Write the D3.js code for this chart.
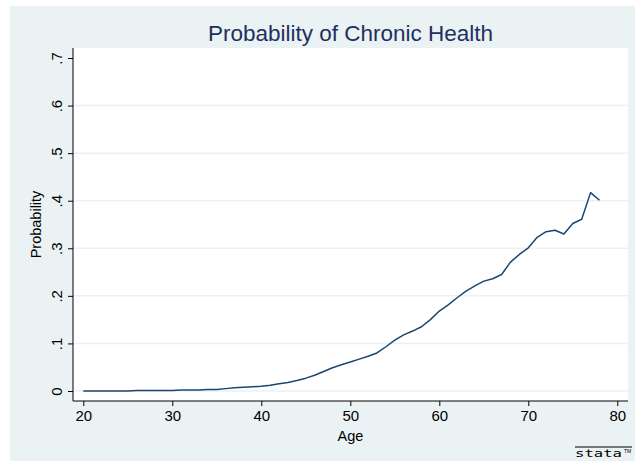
<!DOCTYPE html>
<html>
<head>
<meta charset="utf-8">
<script src="https://cdn.jsdelivr.net/npm/d3@7"></script>
<style>
  html, body { margin: 0; padding: 0; background: #ffffff; }
  svg { display: block; font-family: "Liberation Sans", Arial, Helvetica, sans-serif; }
</style>
</head>
<body>
<svg id="chart" width="635" height="461"></svg>
<script>
// Predicted probability of a chronic health condition by age
const ages = [20,21,22,23,24,25,26,27,28,29,30,31,32,33,34,35,36,37,38,39,
              40,41,42,43,44,45,46,47,48,49,50,51,52,53,54,55,56,57,58,59,
              60,61,62,63,64,65,66,67,68,69,70,71,72,73,74,75,76,77,78];
const probability = [0.000,0.000,0.000,0.000,0.000,0.000,0.001,0.001,0.001,0.001,
                     0.001,0.002,0.002,0.002,0.003,0.003,0.005,0.007,0.008,0.009,
                     0.010,0.012,0.015,0.018,0.022,0.027,0.033,0.041,0.049,0.055,
                     0.061,0.067,0.073,0.080,0.093,0.107,0.118,0.126,0.135,0.150,
                     0.168,0.181,0.196,0.210,0.221,0.231,0.236,0.245,0.271,0.287,
                     0.301,0.323,0.335,0.338,0.330,0.352,0.361,0.417,0.401];
const xTicks = [20, 30, 40, 50, 60, 70, 80];
const yTicks = [0, 0.1, 0.2, 0.3, 0.4, 0.5, 0.6, 0.7];
const yTickLabels = ["0", ".1", ".2", ".3", ".4", ".5", ".6", ".7"];
const gridTicks = [0, 0.1, 0.2, 0.3, 0.4, 0.5, 0.6];

const svg = d3.select("#chart");

// graph region and plot region
const bg = { x0: 10, y0: 6, x1: 635, y1: 461 };
const plot = { left: 73, right: 628, top: 48, bottom: 401 };

svg.append("rect")
  .attr("x", bg.x0).attr("y", bg.y0)
  .attr("width", bg.x1 - bg.x0).attr("height", bg.y1 - bg.y0)
  .attr("fill", "#eaf2f3");

svg.append("rect")
  .attr("x", plot.left).attr("y", plot.top)
  .attr("width", plot.right - plot.left).attr("height", plot.bottom - plot.top)
  .attr("fill", "#ffffff");

const x = d3.scaleLinear().domain([20, 80]).range([83.3, 617.3]);
const y = d3.scaleLinear().domain([0, 0.7]).range([391, 58]);

// horizontal grid lines
svg.append("g")
  .selectAll("line")
  .data(gridTicks)
  .join("line")
  .attr("x1", plot.left).attr("x2", plot.right)
  .attr("y1", d => y(d)).attr("y2", d => y(d))
  .attr("stroke", "#eaf2f3")
  .attr("stroke-width", 1.5);

// y axis
const yAxis = d3.axisLeft(y)
  .tickValues(yTicks)
  .tickFormat((d, i) => yTickLabels[i])
  .tickSizeInner(5)
  .tickSizeOuter(0)
  .tickPadding(5);

const gy = svg.append("g")
  .attr("transform", `translate(${plot.left},0)`)
  .call(yAxis);
gy.select(".domain").remove();
gy.append("line")
  .attr("x1", 0).attr("x2", 0)
  .attr("y1", plot.top).attr("y2", plot.bottom)
  .attr("stroke", "#000").attr("stroke-width", 1);
gy.selectAll(".tick line").attr("stroke", "#000");
// rotated labels centred on each tick
gy.selectAll(".tick text")
  .attr("x", 0).attr("y", 0)
  .attr("dy", 0)
  .attr("transform", "translate(-11,0) rotate(-90)")
  .attr("text-anchor", "middle")
  .attr("fill", "#000")
  .style("font-size", "15px")
  .style("font-family", "'Liberation Sans', Arial, sans-serif");

// x axis
const xAxis = d3.axisBottom(x)
  .tickValues(xTicks)
  .tickFormat(d3.format("d"))
  .tickSizeInner(5)
  .tickSizeOuter(0)
  .tickPadding(4);

const gx = svg.append("g")
  .attr("transform", `translate(0,${plot.bottom})`)
  .call(xAxis);
gx.select(".domain").remove();
gx.append("line")
  .attr("x1", plot.left).attr("x2", plot.right)
  .attr("y1", 0).attr("y2", 0)
  .attr("stroke", "#000").attr("stroke-width", 1);
gx.selectAll(".tick line").attr("stroke", "#000");
gx.selectAll(".tick text")
  .attr("fill", "#000")
  .style("font-size", "15px")
  .style("font-family", "'Liberation Sans', Arial, sans-serif");

// data line
const line = d3.line()
  .x((d, i) => x(ages[i]))
  .y(d => y(d));

svg.append("path")
  .datum(probability)
  .attr("d", line)
  .attr("fill", "none")
  .attr("stroke", "#1a476f")
  .attr("stroke-width", 1.5)
  .attr("stroke-linejoin", "round");

// titles
svg.append("text")
  .attr("x", 350.5)
  .attr("y", 41)
  .attr("text-anchor", "middle")
  .attr("fill", "#1e3060")
  .style("font-size", "22.5px")
  .text("Probability of Chronic Health");

svg.append("text")
  .attr("x", (plot.left + plot.right) / 2)
  .attr("y", 441)
  .attr("text-anchor", "middle")
  .attr("fill", "#000")
  .style("font-size", "14.5px")
  .text("Age");

svg.append("text")
  .attr("transform", `translate(41,${(plot.top + plot.bottom) / 2}) rotate(-90)`)
  .attr("text-anchor", "middle")
  .attr("fill", "#000")
  .style("font-size", "14.5px")
  .text("Probability");

// logo
const logo = svg.append("g").attr("transform", "translate(575,447)");
logo.append("line")
  .attr("x1", 0).attr("x2", 57).attr("y1", 0).attr("y2", 0)
  .attr("stroke", "#000").attr("stroke-width", 1);
logo.append("text")
  .attr("x", 0).attr("y", 10)
  .attr("fill", "#000")
  .attr("textLength", 47)
  .attr("lengthAdjust", "spacingAndGlyphs")
  .style("font-family", "'DejaVu Sans Mono', monospace")
  .style("font-size", "11px")
  .text("stata");
logo.append("text")
  .attr("x", 49).attr("y", 6)
  .attr("fill", "#000")
  .style("font-size", "5px")
  .text("TM");
</script>
</body>
</html>
